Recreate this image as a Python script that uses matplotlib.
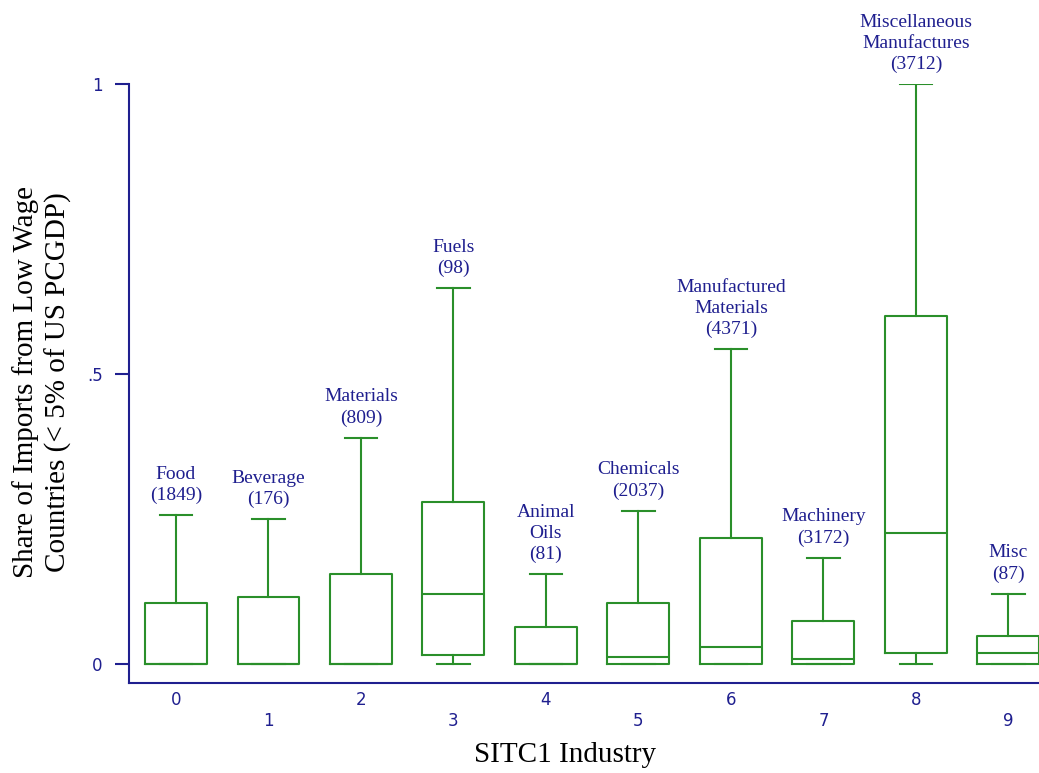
import matplotlib
matplotlib.use("Agg")
import matplotlib.pyplot as plt

# Data
codes = [0, 1, 2, 3, 4, 5, 6, 7, 8, 9]
labels = ["Food\n(1849)", "Beverage\n(176)", "Materials\n(809)", "Fuels\n(98)",
          "Animal\nOils\n(81)", "Chemicals\n(2037)", "Manufactured\nMaterials\n(4371)",
          "Machinery\n(3172)", "Miscellaneous\nManufactures\n(3712)", "Misc\n(87)"]
whis_lo = [0, 0, 0, 0, 0, 0, 0, 0, 0, 0]
q1 = [0, 0, 0, 0.0155, 0, 0, 0, 0, 0.019, 0]
median = [0, 0, 0, 0.121, 0, 0.012, 0.030, 0.008, 0.226, 0.019]
q3 = [0.105, 0.115, 0.155, 0.279, 0.064, 0.105, 0.217, 0.074, 0.600, 0.048]
whis_hi = [0.257, 0.250, 0.390, 0.648, 0.155, 0.264, 0.543, 0.183, 1.000, 0.121]
yticks = [0, 0.5, 1]
yticklabels = ["0", ".5", "1"]

green = "#2a8f2a"
navy = "#1f1f8f"

fig = plt.figure(figsize=(10.39, 7.73), dpi=100)
ax = fig.add_axes([129 / 1039, 90 / 773, (1039 - 129) / 1039, (683 - 84) / 773])

stats = []
for i in range(len(codes)):
    stats.append(dict(med=median[i], q1=q1[i], q3=q3[i],
                      whislo=whis_lo[i], whishi=whis_hi[i], fliers=[]))

lp = dict(color=green, linewidth=1.5)
ax.bxp(stats, positions=codes, widths=0.67, capwidths=0.35, showfliers=False,
       boxprops=lp, whiskerprops=lp, capprops=lp, medianprops=lp,
       manage_ticks=False)

for i, lab in enumerate(labels):
    ax.annotate(lab, xy=(codes[i], whis_hi[i]), xytext=(0, 8),
                textcoords="offset points", ha="center", va="bottom",
                multialignment="center", fontsize=14, color=navy,
                family="Liberation Serif", linespacing=1.3,
                annotation_clip=False)

ax.set_xlim(-0.508, 9.33)
ax.set_ylim(-0.0328, 1.0)

for s in ["top", "right"]:
    ax.spines[s].set_visible(False)
for s in ["left", "bottom"]:
    ax.spines[s].set_color(navy)
    ax.spines[s].set_linewidth(1.5)

ax.set_yticks(yticks)
ax.set_yticklabels(yticklabels)
ax.tick_params(axis="y", colors=navy, length=10, width=1.5, pad=9, labelsize=12)

ax.set_xticks(codes[0::2])
ax.set_xticklabels([str(c) for c in codes[0::2]])
ax.set_xticks(codes[1::2], minor=True)
ax.set_xticklabels([str(c) for c in codes[1::2]], minor=True)
ax.tick_params(axis="x", which="both", length=0, colors=navy, labelsize=12)
ax.tick_params(axis="x", which="major", pad=6)
ax.tick_params(axis="x", which="minor", pad=21)

fig.text(565 / 1039, 1 - 755 / 773, "SITC1 Industry", ha="center", va="center",
         fontsize=21, family="Liberation Serif", color="black")
fig.text(42 / 1039, 1 - 382 / 773,
         "Share of Imports from Low Wage\nCountries (< 5% of US PCGDP)",
         ha="center", va="center", rotation=90, multialignment="center",
         fontsize=21, family="Liberation Serif", color="black", linespacing=1.3)

fig.savefig("out.png", dpi=100)
